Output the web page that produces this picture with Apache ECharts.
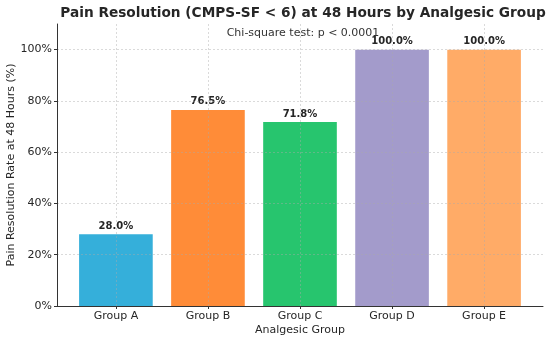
<!DOCTYPE html>
<html>
<head>
<meta charset="utf-8">
<script src="https://cdn.jsdelivr.net/npm/echarts@6/dist/echarts.min.js"></script>
<style>html,body{margin:0;padding:0;background:#fff;}#c{width:550px;height:340px;}</style>
</head>
<body>
<div id="c"></div>
<script>
var categories = ['Group A', 'Group B', 'Group C', 'Group D', 'Group E'];
var rates = [28.0, 76.5, 71.8, 100.0, 100.0];
var barColors = ['#35AFDA', '#FF8C38', '#27C56E', '#A39BCB', '#FFAB67'];
var yTicks = [0, 20, 40, 60, 80, 100];
var titleText = 'Pain Resolution (CMPS-SF < 6) at 48 Hours by Analgesic Group';
var noteText = 'Chi-square test: p < 0.0001';

var FONT = 'DejaVu Sans';
var chart = echarts.init(document.getElementById('c'), null, {renderer: 'canvas'});
var catIdx = categories.map(function (c, i) { return i; });
var gridLine = {show: true, lineStyle: {color: 'rgba(170,170,170,0.55)', type: [2, 2], width: 0.8}};

chart.setOption({
  animation: false,
  backgroundColor: '#ffffff',
  textStyle: {fontFamily: FONT},
  graphic: [{
    type: 'text', x: 303, y: 6,
    style: {text: titleText, font: 'bold 13.7px "DejaVu Sans"', fill: '#262626', textAlign: 'center', textVerticalAlign: 'top'}
  }, {
    type: 'text', x: 303, y: 28,
    style: {text: noteText, font: '11px "DejaVu Sans"', fill: '#333333', textAlign: 'center', textVerticalAlign: 'top'}
  }],
  grid: {left: 57, right: 7, top: 24, bottom: 34, containLabel: false, outerBoundsMode: 'none'},
  xAxis: {
    type: 'value', min: -0.64, max: 4.64, z: 3,
    name: 'Analgesic Group', nameLocation: 'middle', nameGap: 19, nameMoveOverlap: false,
    nameTextStyle: {fontFamily: FONT, fontSize: 11, color: '#262626'},
    axisLine: {show: true, onZero: false, lineStyle: {color: '#333333', width: 1}},
    axisTick: {show: true, length: 3, customValues: catIdx, lineStyle: {color: '#333333'}},
    axisLabel: {
      customValues: catIdx, margin: 5, fontFamily: FONT, fontSize: 11, color: '#262626',
      formatter: function (v) { return categories[Math.round(v)]; }
    },
    splitLine: gridLine
  },
  yAxis: {
    type: 'value', min: 0, max: 110, z: 3,
    name: 'Pain Resolution Rate at 48 Hours (%)', nameLocation: 'middle', nameGap: 40, nameMoveOverlap: false,
    nameTextStyle: {fontFamily: FONT, fontSize: 11, color: '#262626'},
    axisLine: {show: true, onZero: false, lineStyle: {color: '#333333', width: 1}},
    axisTick: {show: true, length: 3, customValues: yTicks, lineStyle: {color: '#333333'}},
    axisLabel: {
      customValues: yTicks, margin: 5, fontFamily: FONT, fontSize: 11, color: '#262626',
      formatter: function (v) { return v + '%'; }
    },
    splitLine: gridLine
  },
  series: [{
    type: 'bar',
    barWidth: '80%',
    data: rates.map(function (v, i) {
      return {value: [i, v], itemStyle: {color: barColors[i]}};
    }),
    label: {
      show: true, position: 'top', distance: 3,
      fontFamily: FONT, fontWeight: 'bold', fontSize: 10, color: '#262626',
      formatter: function (p) { return p.value[1].toFixed(1) + '%'; }
    }
  }]
});
</script>
</body>
</html>
